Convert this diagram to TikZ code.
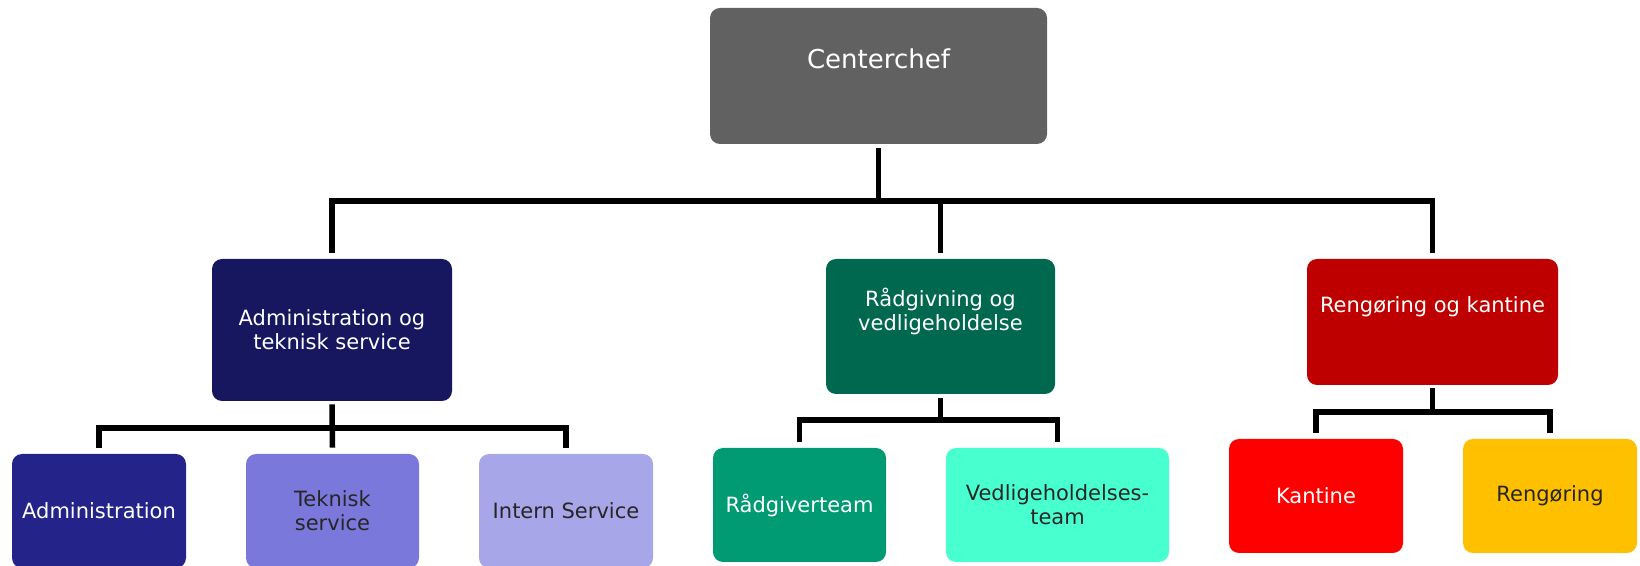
\documentclass[tikz,border=0pt]{standalone}
\usepackage{fontspec}
\setmainfont{DejaVu Sans}
\definecolor{chefgray}{HTML}{616161}
\definecolor{admdark}{HTML}{171760}
\definecolor{admblue}{HTML}{232389}
\definecolor{tekblue}{HTML}{7B78DC}
\definecolor{intblue}{HTML}{A6A6E8}
\definecolor{raaddark}{HTML}{00684F}
\definecolor{raadmid}{HTML}{009A73}
\definecolor{vedlmint}{HTML}{48FFD0}
\definecolor{rentdark}{HTML}{BE0000}
\definecolor{kantred}{HTML}{FF0000}
\definecolor{rengyellow}{HTML}{FFC000}
\definecolor{darktext}{HTML}{262626}
\begin{document}
\begin{tikzpicture}[x=0.5pt, y=-0.5pt,
		box/.style={rectangle, rounded corners=5pt, inner sep=0pt, align=center,
			text=white, font=\fontsize{10.5pt}{12pt}\selectfont},
		dark/.style={text=darktext},
		conn/.style={line width=2.75pt, line join=miter}]
			\useasboundingbox (0,0) rectangle (1640,566);
			
			% Top
			\node[box, fill=chefgray, minimum width=168.5pt, minimum height=68pt,
				label={[text=white, font=\fontsize{13pt}{16pt}\selectfont, yshift=8.5pt]center:Centerchef}] (chef) at (878.5,76) {};
			
			% Departments
			\node[box, fill=admdark, minimum width=120pt, minimum height=71pt] (admt) at (332,330) {Administration og\\teknisk service};
			\node[box, fill=raaddark, minimum width=114.5pt, minimum height=67.5pt,
				label={[box, yshift=7.75pt]center:Rådgivning og\\vedligeholdelse}] (raad) at (940.5,326.5) {};
			\node[box, fill=rentdark, minimum width=125.5pt, minimum height=63pt,
				label={[box, yshift=7.5pt]center:Rengøring og kantine}] (rent) at (1432.5,322) {};
			
			% Teams
			\foreach \name/\x/\y/\w/\col/\txt in {adm/99/511/87/admblue/Administration,
				raadt/799.5/505/86.5/raadmid/Rådgiverteam,
				kant/1316/496/87/kantred/Kantine} {
				\node[box, fill=\col, minimum width=\w pt, minimum height=57pt] (\name) at (\x,\y) {\txt};
			}
			\foreach \name/\x/\y/\w/\col/\txt in {tek/332.5/511/86.5/tekblue/Teknisk\\service,
				intern/566/511/87/intblue/Intern Service,
				vedl/1057.5/505/111.5/vedlmint/Vedligeholdelses-\\team,
				reng/1550/496/87/rengyellow/Rengøring} {
				\node[box, dark, fill=\col, minimum width=\w pt, minimum height=57pt] (\name) at (\x,\y) {\txt};
			}
			
			% Connections
			\coordinate (bus1) at (878.5,201);
			\draw[conn] ([yshift=-2pt]chef.south) -- (bus1);
			\draw[conn] ([yshift=3pt]admt.north) |- (bus1) -| ([yshift=3pt]rent.north);
			\draw[conn] (raad.north |- bus1) -- ([yshift=3pt]raad.north);
			
			\coordinate (bus2) at (332,428);
			\draw[conn] ([yshift=-1.5pt]admt.south) -- ([yshift=3pt]tek.north);
			\draw[conn] ([yshift=3pt]adm.north) |- (bus2) -| ([yshift=3pt]intern.north);
			
			\coordinate (bus3) at (940.5,420);
			\draw[conn] ([yshift=-2pt]raad.south) -- (bus3);
			\draw[conn] ([yshift=3pt]raadt.north) |- (bus3) -| ([yshift=3pt]vedl.north);
			
			\coordinate (bus4) at (1432.5,412);
			\draw[conn] ([yshift=-1.5pt]rent.south) -- (bus4);
			\draw[conn] ([yshift=3pt]kant.north) |- (bus4) -| ([yshift=3pt]reng.north);
		\end{tikzpicture}
\end{document}
